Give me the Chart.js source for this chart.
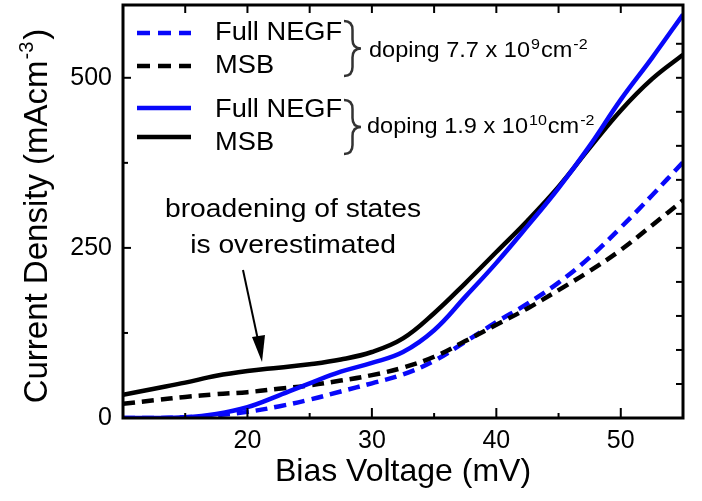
<!DOCTYPE html>
<html>
<head>
<meta charset="utf-8">
<script src="https://cdn.jsdelivr.net/npm/chart.js@4.4.1/dist/chart.umd.min.js"></script>
<style>
html, body { margin: 0; padding: 0; background: #fff; }
#wrap { width: 702px; height: 501px; position: relative; }
</style>
</head>
<body>
<div id="wrap"><canvas id="lineChart"></canvas></div>
<script>
// bias voltage (mV) and current density (mA cm^-3)
const biasV    = [10, 12.5, 15, 17.5, 20, 22.5, 25, 27.5, 30, 32.5, 35, 37.5, 40, 42.5, 45, 47.5, 50, 52.5, 55];
const negfLow  = [0, 0, 1, 4, 9, 17, 27, 39, 51, 64, 84, 112, 141, 168, 199, 236, 280, 327, 376];
const msbLow   = [21, 26, 31, 35, 38, 43, 48, 55, 63, 74, 90, 113, 137, 161, 188, 216, 247, 283, 320];
const negfHigh = [0, 0, 1, 6, 16, 33, 51, 68, 81, 97, 129, 178, 228, 282, 338, 400, 468, 529, 593];
const msbHigh  = [34, 43, 52, 62, 69, 74, 79, 86, 97, 117, 154, 198, 244, 290, 340, 397, 452, 498, 534];

const seriesNames = ["Full NEGF", "MSB", "Full NEGF", "MSB"];
const dopingLow  = ["doping 7.7 x 10", "9", "cm", "-2"];
const dopingHigh = ["doping 1.9 x 10", "10", "cm", "-2"];
const noteLines = ["broadening of states", "is overestimated"];

const xTicks = [20, 30, 40, 50];
const xMinor = [15, 25, 35, 45];
const xTop = [15, 20, 25, 30, 35, 40, 45, 50];
const yTicks = [0, 250, 500];
const yMinor = [125, 375];
const yRight = [50, 100, 150, 200, 250, 300, 350, 400, 450, 500, 550];

const BLUE = "#0808fa";
const FONT = "'Liberation Sans', Arial, sans-serif";
const DASH = [12, 7];

function pts(ys) {
    return biasV.map((x, i) => ({x: x, y: ys[i]}));
}

// stretched text helper
function txt(ctx, s, x, y, size, sx, align) {
    ctx.save();
    ctx.font = size + "px " + FONT;
    ctx.textAlign = align || "left";
    ctx.textBaseline = "alphabetic";
    ctx.translate(x, y);
    ctx.scale(sx, 1);
    ctx.fillText(s, 0, 0);
    ctx.restore();
    ctx.font = size + "px " + FONT;
    return ctx.measureText(s).width * sx;
}

// text with superscripts, parts alternate normal / sup
function supLine(ctx, parts, x, y, size, supSize, rise, sx) {
    let cx = x;
    parts.forEach((p, i) => {
        if (i % 2 == 0) cx += txt(ctx, p, cx, y, size, sx);
        else cx += txt(ctx, p, cx + 1, y - rise, supSize, sx) + 2;
    });
}

function brace(ctx, x, y1, y2, w) {
    const mid = (y1 + y2) / 2, r = 9, xm = x + w * 0.5;
    ctx.beginPath();
    ctx.moveTo(x, y1);
    ctx.quadraticCurveTo(xm, y1, xm, y1 + r);
    ctx.lineTo(xm, mid - r);
    ctx.quadraticCurveTo(xm, mid, x + w, mid);
    ctx.quadraticCurveTo(xm, mid, xm, mid + r);
    ctx.lineTo(xm, y2 - r);
    ctx.quadraticCurveTo(xm, y2, x, y2);
    ctx.stroke();
}

const decor = {
    id: "decor",
    afterDraw(chart) {
        const ctx = chart.ctx, a = chart.chartArea;
        const xs = chart.scales.x, ys = chart.scales.y;
        ctx.save();
        ctx.strokeStyle = "#000";
        ctx.fillStyle = "#000";
        ctx.lineWidth = 3;
        ctx.strokeRect(a.left, a.top, a.right - a.left, a.bottom - a.top);

        ctx.lineWidth = 2;
        function tk(x1, y1, x2, y2) { ctx.beginPath(); ctx.moveTo(x1, y1); ctx.lineTo(x2, y2); ctx.stroke(); }
        xTicks.forEach(v => { const p = xs.getPixelForValue(v); tk(p, a.bottom, p, a.bottom - 10); });
        xMinor.forEach(v => { const p = xs.getPixelForValue(v); tk(p, a.bottom, p, a.bottom - 5); });
        xTop.forEach(v => { const p = xs.getPixelForValue(v); tk(p, a.top, p, a.top + 8); });
        yTicks.forEach(v => { const p = ys.getPixelForValue(v); tk(a.left, p, a.left + 8, p); });
        yMinor.forEach(v => { const p = ys.getPixelForValue(v); tk(a.left, p, a.left + 5, p); });
        yRight.forEach(v => { const p = ys.getPixelForValue(v); tk(a.right, p, a.right - 7, p); });

        // y axis title with superscript
        ctx.save();
        ctx.translate(35, 216);
        ctx.rotate(-Math.PI / 2);
        ctx.font = "33px " + FONT;
        const w1 = ctx.measureText("Current Density (mAcm").width;
        ctx.font = "20px " + FONT;
        const w2 = ctx.measureText("-3").width;
        ctx.font = "33px " + FONT;
        const w3 = ctx.measureText(")").width;
        let sx0 = -(w1 + w2 + 3 + w3) / 2;
        txt(ctx, "Current Density (mAcm", sx0, 12, 33, 1);
        txt(ctx, "-3", sx0 + w1 + 1, -2, 20, 1);
        txt(ctx, ")", sx0 + w1 + w2 + 3, 12, 33, 1);
        ctx.restore();

        // legend
        const sample = [
            {y: 33, c: BLUE, d: [13, 8]},
            {y: 66, c: "#000", d: [13, 8]},
            {y: 108, c: BLUE, d: []},
            {y: 137, c: "#000", d: []}
        ];
        const textY = [40, 73, 117, 150];
        ctx.lineWidth = 4.5;
        sample.forEach((s, i) => {
            ctx.strokeStyle = s.c;
            ctx.setLineDash(s.d);
            ctx.beginPath(); ctx.moveTo(137, s.y); ctx.lineTo(191, s.y); ctx.stroke();
            ctx.setLineDash([]);
            txt(ctx, seriesNames[i], 215, textY[i], 25, 1.09);
        });

        // braces and doping labels
        ctx.strokeStyle = "#333";
        ctx.lineWidth = 2.5;
        brace(ctx, 344, 21, 76, 17);
        brace(ctx, 344, 100, 154, 17);
        supLine(ctx, dopingLow, 369, 57, 22, 15, 8, 1.07);
        supLine(ctx, dopingHigh, 367, 133, 22, 15, 8, 1.07);

        // annotation and arrow
        txt(ctx, noteLines[0], 293, 217, 25, 1.13, "center");
        txt(ctx, noteLines[1], 293, 253, 25, 1.13, "center");
        ctx.strokeStyle = "#000";
        ctx.lineWidth = 2;
        ctx.beginPath(); ctx.moveTo(243, 270); ctx.lineTo(258, 340); ctx.stroke();
        ctx.beginPath();
        ctx.moveTo(262, 362);
        ctx.lineTo(252, 337);
        ctx.lineTo(265, 335);
        ctx.closePath();
        ctx.fill();
        ctx.restore();
    }
};

const CHART = document.getElementById("lineChart");
let lineChart = new Chart(CHART, {
    type: "line",
    data: {
        datasets: [
            {label: seriesNames[2], data: pts(negfHigh), borderColor: BLUE, borderWidth: 4.5, order: 1},
            {label: seriesNames[3], data: pts(msbHigh), borderColor: "#000", borderWidth: 4.5, order: 2},
            {label: seriesNames[1], data: pts(msbLow), borderColor: "#000", borderWidth: 4.5, borderDash: DASH, order: 3},
            {label: seriesNames[0], data: pts(negfLow), borderColor: BLUE, borderWidth: 4.5, borderDash: DASH, order: 4}
        ]
    },
    options: {
        responsive: true,
        maintainAspectRatio: false,
        animation: false,
        devicePixelRatio: 1,
        layout: {padding: {left: 0, right: 19, top: 5, bottom: 0}},
        elements: {
            point: {radius: 0},
            line: {tension: 0.4, fill: false}
        },
        plugins: {legend: {display: false}, tooltip: {enabled: false}},
        scales: {
            x: {
                type: "linear",
                min: 10,
                max: 55,
                afterBuildTicks: s => { s.ticks = xTicks.map(v => ({value: v})); },
                afterFit: s => { s.height = 83; s.paddingLeft = 0; s.paddingRight = 0; },
                grid: {display: false, drawTicks: false},
                border: {display: false},
                ticks: {color: "#000", font: {family: FONT, size: 25}, padding: 8, maxRotation: 0, autoSkip: false},
                title: {display: true, text: "Bias Voltage (mV)", color: "#000", font: {family: FONT, size: 32}, padding: {top: 0, bottom: 10}}
            },
            y: {
                type: "linear",
                min: 0,
                max: 607,
                afterBuildTicks: s => { s.ticks = yTicks.map(v => ({value: v})); },
                afterFit: s => { s.width = 123; s.paddingTop = 0; s.paddingBottom = 0; },
                grid: {display: false, drawTicks: false},
                border: {display: false},
                ticks: {color: "#000", font: {family: FONT, size: 25}, padding: 11}
            }
        }
    },
    plugins: [decor]
});
</script>
</body>
</html>
